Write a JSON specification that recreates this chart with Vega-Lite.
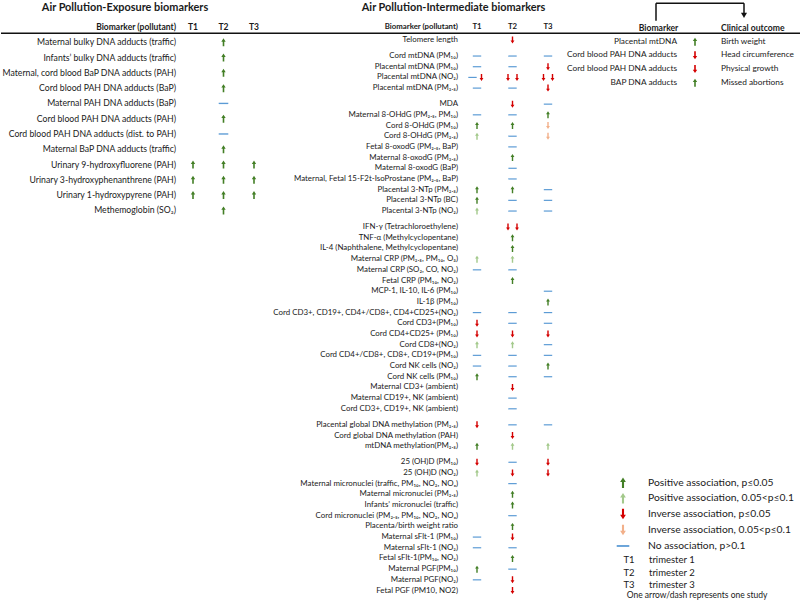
{
  "$schema": "https://vega.github.io/schema/vega-lite/v6.json",
  "padding": 0,
  "spacing": 0,
  "bounds": "flush",
  "config": {"view": {"stroke": null}, "font": "Lato", "text": {"color": "#1a1a1a", "baseline": "middle"}},
  "datasets": {
    "expLabels": [
      {"row": 0, "label": "Maternal bulky DNA adducts (traffic)"},
      {"row": 1, "label": "Infants’  bulky DNA adducts (traffic)"},
      {"row": 2, "label": "Maternal, cord blood BaP DNA adducts (PAH)"},
      {"row": 3, "label": "Cord blood PAH DNA adducts (BaP)"},
      {"row": 4, "label": "Maternal PAH DNA adducts (BaP)"},
      {"row": 5, "label": "Cord blood PAH DNA adducts (PAH)"},
      {"row": 6, "label": "Cord blood PAH DNA adducts (dist. to PAH)"},
      {"row": 7, "label": "Maternal BaP DNA adducts (traffic)"},
      {"row": 8, "label": "Urinary 9-hydroxyfluorene (PAH)"},
      {"row": 9, "label": "Urinary 3-hydroxyphenanthrene (PAH)"},
      {"row": 10, "label": "Urinary 1-hydroxypyrene (PAH)"},
      {"row": 11, "label": "Methemoglobin (SO₂)"}
    ],
    "expMarks": [
      {"row": 0, "tri": "T2", "assoc": "pos"},
      {"row": 1, "tri": "T2", "assoc": "pos"},
      {"row": 2, "tri": "T2", "assoc": "pos"},
      {"row": 3, "tri": "T2", "assoc": "pos"},
      {"row": 4, "tri": "T2", "assoc": "none"},
      {"row": 5, "tri": "T2", "assoc": "pos"},
      {"row": 6, "tri": "T2", "assoc": "none"},
      {"row": 7, "tri": "T2", "assoc": "pos"},
      {"row": 8, "tri": "T1", "assoc": "pos"},
      {"row": 8, "tri": "T2", "assoc": "pos"},
      {"row": 8, "tri": "T3", "assoc": "pos"},
      {"row": 9, "tri": "T1", "assoc": "pos"},
      {"row": 9, "tri": "T2", "assoc": "pos"},
      {"row": 9, "tri": "T3", "assoc": "pos"},
      {"row": 10, "tri": "T1", "assoc": "pos"},
      {"row": 10, "tri": "T2", "assoc": "pos"},
      {"row": 10, "tri": "T3", "assoc": "pos"},
      {"row": 11, "tri": "T2", "assoc": "pos"}
    ],
    "intLabels": [
      {"row": 0, "label": "Telomere length"},
      {"row": 1.5, "label": "Cord mtDNA (PM₁₀)"},
      {"row": 2.5, "label": "Placental mtDNA (PM₁₀)"},
      {"row": 3.5, "label": "Placental mtDNA (NO₂)"},
      {"row": 4.5, "label": "Placental mtDNA (PM₂.₅)"},
      {"row": 6, "label": "MDA"},
      {"row": 7, "label": "Maternal 8-OHdG (PM₂.₅, PM₁₀)"},
      {"row": 8, "label": "Cord 8-OHdG (PM₁₀)"},
      {"row": 9, "label": "Cord 8-OHdG (PM₂.₅)"},
      {"row": 10, "label": "Fetal 8-oxodG (PM₂.₅, BaP)"},
      {"row": 11, "label": "Maternal 8-oxodG (PM₂.₅)"},
      {"row": 12, "label": "Maternal 8-oxodG (BaP)"},
      {"row": 13, "label": "Maternal, Fetal 15-F2t-IsoProstane (PM₂.₅, BaP)"},
      {"row": 14, "label": "Placental 3-NTp (PM₂.₅)"},
      {"row": 15, "label": "Placental 3-NTp (BC)"},
      {"row": 16, "label": "Placental 3-NTp (NO₂)"},
      {"row": 17.5, "label": "IFN-γ (Tetrachloroethylene)"},
      {"row": 18.5, "label": "TNF-α (Methylcyclopentane)"},
      {"row": 19.5, "label": "IL-4 (Naphthalene, Methylcyclopentane)"},
      {"row": 20.5, "label": "Maternal CRP (PM₂.₅, PM₁₀, O₃)"},
      {"row": 21.5, "label": "Maternal CRP (SO₂, CO, NO₂)"},
      {"row": 22.5, "label": "Fetal CRP (PM₁₀, NO₂)"},
      {"row": 23.5, "label": "MCP-1, IL-10, IL-6 (PM₁₀)"},
      {"row": 24.5, "label": "IL-1β (PM₁₀)"},
      {"row": 25.5, "label": "Cord CD3+, CD19+, CD4+/CD8+, CD4+CD25+(NO₂)"},
      {"row": 26.5, "label": "Cord CD3+(PM₁₀)"},
      {"row": 27.5, "label": "Cord CD4+CD25+ (PM₁₀)"},
      {"row": 28.5, "label": "Cord CD8+(NO₂)"},
      {"row": 29.5, "label": "Cord CD4+/CD8+, CD8+, CD19+(PM₁₀)"},
      {"row": 30.5, "label": "Cord NK cells (NO₂)"},
      {"row": 31.5, "label": "Cord NK cells (PM₁₀)"},
      {"row": 32.5, "label": "Maternal CD3+ (ambient)"},
      {"row": 33.5, "label": "Maternal CD19+, NK (ambient)"},
      {"row": 34.5, "label": "Cord CD3+, CD19+, NK (ambient)"},
      {"row": 36, "label": "Placental global DNA methylation (PM₂.₅)"},
      {"row": 37, "label": "Cord global DNA methylation (PAH)"},
      {"row": 38, "label": "mtDNA methylation(PM₂.₅)"},
      {"row": 39.5, "label": "25 (OH)D (PM₁₀)"},
      {"row": 40.5, "label": "25 (OH)D (NO₂)"},
      {"row": 41.5, "label": "Maternal micronuclei (traffic, PM₁₀, NO₂, NOₓ)"},
      {"row": 42.5, "label": "Maternal micronuclei (PM₂.₅)"},
      {"row": 43.5, "label": "Infants’ micronuclei (traffic)"},
      {"row": 44.5, "label": "Cord micronuclei (PM₂.₅, PM₁₀, NO₂, NOₓ)"},
      {"row": 45.5, "label": "Placenta/birth weight ratio"},
      {"row": 46.5, "label": "Maternal sFlt-1 (PM₁₀)"},
      {"row": 47.5, "label": "Maternal sFlt-1 (NO₂)"},
      {"row": 48.5, "label": "Fetal sFlt-1(PM₁₀, NO₂)"},
      {"row": 49.5, "label": "Maternal PGF(PM₁₀)"},
      {"row": 50.5, "label": "Maternal PGF(NO₂)"},
      {"row": 51.5, "label": "Fetal PGF (PM10, NO2)"}
    ],
    "intMarks": [
      {"row": 0, "tri": "T2", "slot": "C", "assoc": "neg"},
      {"row": 1.5, "tri": "T1", "slot": "C", "assoc": "none"},
      {"row": 1.5, "tri": "T2", "slot": "C", "assoc": "none"},
      {"row": 1.5, "tri": "T3", "slot": "C", "assoc": "none"},
      {"row": 2.5, "tri": "T1", "slot": "C", "assoc": "none"},
      {"row": 2.5, "tri": "T2", "slot": "C", "assoc": "none"},
      {"row": 2.5, "tri": "T3", "slot": "C", "assoc": "neg"},
      {"row": 3.5, "tri": "T1", "slot": "L", "assoc": "none"},
      {"row": 3.5, "tri": "T1", "slot": "R", "assoc": "neg"},
      {"row": 3.5, "tri": "T2", "slot": "L", "assoc": "neg"},
      {"row": 3.5, "tri": "T2", "slot": "R", "assoc": "neg"},
      {"row": 3.5, "tri": "T3", "slot": "L", "assoc": "neg"},
      {"row": 3.5, "tri": "T3", "slot": "R", "assoc": "neg"},
      {"row": 4.5, "tri": "T1", "slot": "C", "assoc": "none"},
      {"row": 4.5, "tri": "T2", "slot": "C", "assoc": "none"},
      {"row": 4.5, "tri": "T3", "slot": "C", "assoc": "neg"},
      {"row": 6, "tri": "T2", "slot": "C", "assoc": "neg"},
      {"row": 6, "tri": "T3", "slot": "C", "assoc": "none"},
      {"row": 7, "tri": "T1", "slot": "C", "assoc": "none"},
      {"row": 7, "tri": "T2", "slot": "C", "assoc": "none"},
      {"row": 7, "tri": "T3", "slot": "C", "assoc": "pos"},
      {"row": 8, "tri": "T1", "slot": "C", "assoc": "pos"},
      {"row": 8, "tri": "T2", "slot": "C", "assoc": "pos"},
      {"row": 8, "tri": "T3", "slot": "C", "assoc": "neg_m"},
      {"row": 9, "tri": "T1", "slot": "C", "assoc": "pos_m"},
      {"row": 9, "tri": "T2", "slot": "C", "assoc": "none"},
      {"row": 9, "tri": "T3", "slot": "C", "assoc": "neg_m"},
      {"row": 10, "tri": "T2", "slot": "C", "assoc": "none"},
      {"row": 11, "tri": "T2", "slot": "C", "assoc": "pos"},
      {"row": 12, "tri": "T2", "slot": "C", "assoc": "none"},
      {"row": 13, "tri": "T2", "slot": "C", "assoc": "none"},
      {"row": 14, "tri": "T1", "slot": "C", "assoc": "pos"},
      {"row": 14, "tri": "T2", "slot": "C", "assoc": "pos"},
      {"row": 14, "tri": "T3", "slot": "C", "assoc": "none"},
      {"row": 15, "tri": "T1", "slot": "C", "assoc": "pos"},
      {"row": 15, "tri": "T2", "slot": "C", "assoc": "none"},
      {"row": 15, "tri": "T3", "slot": "C", "assoc": "none"},
      {"row": 16, "tri": "T1", "slot": "C", "assoc": "pos_m"},
      {"row": 16, "tri": "T2", "slot": "C", "assoc": "none"},
      {"row": 16, "tri": "T3", "slot": "C", "assoc": "none"},
      {"row": 17.5, "tri": "T2", "slot": "L", "assoc": "neg"},
      {"row": 17.5, "tri": "T2", "slot": "R", "assoc": "neg"},
      {"row": 18.5, "tri": "T2", "slot": "C", "assoc": "pos"},
      {"row": 19.5, "tri": "T2", "slot": "C", "assoc": "pos"},
      {"row": 20.5, "tri": "T1", "slot": "C", "assoc": "pos_m"},
      {"row": 20.5, "tri": "T2", "slot": "C", "assoc": "pos_m"},
      {"row": 21.5, "tri": "T1", "slot": "C", "assoc": "none"},
      {"row": 21.5, "tri": "T2", "slot": "C", "assoc": "none"},
      {"row": 22.5, "tri": "T2", "slot": "C", "assoc": "pos"},
      {"row": 23.5, "tri": "T3", "slot": "C", "assoc": "none"},
      {"row": 24.5, "tri": "T3", "slot": "C", "assoc": "pos"},
      {"row": 25.5, "tri": "T1", "slot": "C", "assoc": "none"},
      {"row": 25.5, "tri": "T2", "slot": "C", "assoc": "none"},
      {"row": 25.5, "tri": "T3", "slot": "C", "assoc": "none"},
      {"row": 26.5, "tri": "T1", "slot": "C", "assoc": "neg"},
      {"row": 26.5, "tri": "T2", "slot": "C", "assoc": "none"},
      {"row": 26.5, "tri": "T3", "slot": "C", "assoc": "none"},
      {"row": 27.5, "tri": "T1", "slot": "C", "assoc": "neg"},
      {"row": 27.5, "tri": "T2", "slot": "C", "assoc": "neg"},
      {"row": 27.5, "tri": "T3", "slot": "C", "assoc": "neg"},
      {"row": 28.5, "tri": "T1", "slot": "C", "assoc": "pos_m"},
      {"row": 28.5, "tri": "T2", "slot": "C", "assoc": "pos_m"},
      {"row": 28.5, "tri": "T3", "slot": "C", "assoc": "none"},
      {"row": 29.5, "tri": "T1", "slot": "C", "assoc": "none"},
      {"row": 29.5, "tri": "T2", "slot": "C", "assoc": "none"},
      {"row": 29.5, "tri": "T3", "slot": "C", "assoc": "none"},
      {"row": 30.5, "tri": "T1", "slot": "C", "assoc": "none"},
      {"row": 30.5, "tri": "T2", "slot": "C", "assoc": "none"},
      {"row": 30.5, "tri": "T3", "slot": "C", "assoc": "pos"},
      {"row": 31.5, "tri": "T1", "slot": "C", "assoc": "pos"},
      {"row": 31.5, "tri": "T2", "slot": "C", "assoc": "none"},
      {"row": 31.5, "tri": "T3", "slot": "C", "assoc": "none"},
      {"row": 32.5, "tri": "T2", "slot": "C", "assoc": "neg"},
      {"row": 33.5, "tri": "T2", "slot": "C", "assoc": "none"},
      {"row": 34.5, "tri": "T2", "slot": "C", "assoc": "none"},
      {"row": 36, "tri": "T1", "slot": "C", "assoc": "neg"},
      {"row": 36, "tri": "T2", "slot": "C", "assoc": "none"},
      {"row": 36, "tri": "T3", "slot": "C", "assoc": "none"},
      {"row": 37, "tri": "T2", "slot": "C", "assoc": "neg"},
      {"row": 38, "tri": "T1", "slot": "C", "assoc": "pos"},
      {"row": 38, "tri": "T2", "slot": "C", "assoc": "pos_m"},
      {"row": 38, "tri": "T3", "slot": "C", "assoc": "pos_m"},
      {"row": 39.5, "tri": "T1", "slot": "C", "assoc": "neg"},
      {"row": 39.5, "tri": "T2", "slot": "C", "assoc": "none"},
      {"row": 39.5, "tri": "T3", "slot": "C", "assoc": "neg"},
      {"row": 40.5, "tri": "T1", "slot": "C", "assoc": "pos_m"},
      {"row": 40.5, "tri": "T2", "slot": "C", "assoc": "neg"},
      {"row": 40.5, "tri": "T3", "slot": "C", "assoc": "neg"},
      {"row": 41.5, "tri": "T2", "slot": "C", "assoc": "none"},
      {"row": 42.5, "tri": "T2", "slot": "C", "assoc": "pos"},
      {"row": 43.5, "tri": "T2", "slot": "C", "assoc": "pos"},
      {"row": 44.5, "tri": "T2", "slot": "C", "assoc": "none"},
      {"row": 45.5, "tri": "T2", "slot": "C", "assoc": "pos"},
      {"row": 46.5, "tri": "T1", "slot": "C", "assoc": "none"},
      {"row": 46.5, "tri": "T2", "slot": "C", "assoc": "neg"},
      {"row": 47.5, "tri": "T1", "slot": "C", "assoc": "none"},
      {"row": 47.5, "tri": "T2", "slot": "C", "assoc": "none"},
      {"row": 48.5, "tri": "T2", "slot": "C", "assoc": "pos"},
      {"row": 49.5, "tri": "T1", "slot": "C", "assoc": "pos"},
      {"row": 49.5, "tri": "T2", "slot": "C", "assoc": "none"},
      {"row": 50.5, "tri": "T1", "slot": "C", "assoc": "none"},
      {"row": 50.5, "tri": "T2", "slot": "C", "assoc": "neg"},
      {"row": 51.5, "tri": "T2", "slot": "C", "assoc": "neg"}
    ],
    "outRows": [
      {"row": 0, "biomarker": "Placental mtDNA", "assoc": "pos", "outcome": "Birth weight"},
      {"row": 1, "biomarker": "Cord blood PAH DNA adducts", "assoc": "neg", "outcome": "Head circumference"},
      {"row": 2, "biomarker": "Cord blood PAH DNA adducts", "assoc": "neg", "outcome": "Physical growth"},
      {"row": 3, "biomarker": "BAP DNA adducts", "assoc": "pos", "outcome": "Missed abortions"}
    ],
    "legendRows": [
      {"row": 32.26, "assoc": "pos", "label": "Positive association, p≤0.05"},
      {"row": 33.40, "assoc": "pos_m", "label": "Positive association, 0.05<p≤0.1"},
      {"row": 34.55, "assoc": "neg", "label": "Inverse association, p≤0.05"},
      {"row": 35.72, "assoc": "neg_m", "label": "Inverse association, 0.05<p≤0.1"},
      {"row": 36.89, "assoc": "none", "label": "No association, p>0.1"}
    ],
    "trimesters": [
      {"row": 37.914, "code": "T1", "text": "trimester 1"},
      {"row": 38.843, "code": "T2", "text": "trimester 2"},
      {"row": 39.744, "code": "T3", "text": "trimester 3"}
    ]
  },
  "hconcat": [
    {
      "width": 290,
      "height": 600,
      "layer": [
        {
          "data": {"name": "expMarks"},
          "mark": {"type": "point", "filled": true, "size": 64, "opacity": 1, "strokeWidth": 0},
          "encoding": {
            "x": {"field": "tri", "type": "nominal", "scale": {"type": "point", "domain": ["T1", "T2", "T3"], "range": [192, 253], "padding": 0}, "axis": null},
            "y": {"field": "row", "type": "quantitative", "scale": {"domain": [-2.768, 36.499], "reverse": true, "nice": false, "zero": false}, "axis": null},
            "color": {"field": "assoc", "type": "nominal", "scale": {"domain": ["pos", "pos_m", "neg", "neg_m", "none"], "range": ["#437f26", "#a3c98b", "#d40000", "#f2b08a", "#5b9bd5"]}, "legend": null},
            "shape": {"field": "assoc", "type": "nominal", "scale": {"domain": ["pos", "pos_m", "neg", "neg_m", "none"], "range": ["M0,-1L0.55,-0.15L0.2,-0.15L0.2,1L-0.2,1L-0.2,-0.15L-0.55,-0.15Z", "M0,-1L0.55,-0.15L0.2,-0.15L0.2,1L-0.2,1L-0.2,-0.15L-0.55,-0.15Z", "M0,1L0.55,0.15L0.2,0.15L0.2,-1L-0.2,-1L-0.2,0.15L-0.55,0.15Z", "M0,1L0.55,0.15L0.2,0.15L0.2,-1L-0.2,-1L-0.2,0.15L-0.55,0.15Z", "M-1.2,-0.17L1.2,-0.17L1.2,0.17L-1.2,0.17Z"]}, "legend": null}
          }
        },
        {
          "data": {"name": "expLabels"},
          "transform": [{"calculate": "'T1'", "as": "tri"}],
          "mark": {"type": "text", "align": "right", "dx": -17, "fontSize": 8.7},
          "encoding": {
            "x": {"field": "tri", "type": "nominal"},
            "y": {"field": "row", "type": "quantitative"},
            "text": {"field": "label"}
          }
        },
        {
          "data": {"values": [{"tri": "T1", "row": -1.0}, {"tri": "T2", "row": -1.0}, {"tri": "T3", "row": -1.0}]},
          "mark": {"type": "text", "fontWeight": "bold", "fontSize": 8.5},
          "encoding": {
            "x": {"field": "tri", "type": "nominal"},
            "y": {"field": "row", "type": "quantitative"},
            "text": {"field": "tri"}
          }
        },
        {
          "data": {"values": [{"tri": "T1", "row": -1.0, "t": "Biomarker (pollutant)"}]},
          "mark": {"type": "text", "fontWeight": "bold", "fontSize": 8.5, "align": "right", "dx": -17},
          "encoding": {
            "x": {"field": "tri", "type": "nominal"},
            "y": {"field": "row", "type": "quantitative"},
            "text": {"field": "t"}
          }
        },
        {
          "data": {"values": [{"tri": "T1", "row": -2.277, "t": "Air Pollution-Exposure biomarkers"}]},
          "mark": {"type": "text", "fontWeight": "bold", "fontSize": 10.9, "align": "center", "dx": -68},
          "encoding": {
            "x": {"field": "tri", "type": "nominal"},
            "y": {"field": "row", "type": "quantitative"},
            "text": {"field": "t"}
          }
        },
        {
          "data": {"values": [{"line": -0.589}]},
          "mark": {"type": "rule", "color": "#111111", "strokeWidth": 1.5},
          "encoding": {"y": {"field": "line", "type": "quantitative"}}
        }
      ]
    },
    {
      "width": 270,
      "height": 600,
      "layer": [
        {
          "data": {"name": "intMarks"},
          "transform": [{"filter": "datum.slot == 'C'"}],
          "mark": {"type": "point", "filled": true, "size": 49, "opacity": 1, "strokeWidth": 0},
          "encoding": {
            "x": {"field": "tri", "type": "nominal", "scale": {"type": "point", "domain": ["T1", "T2", "T3"], "range": [186, 257], "padding": 0}, "axis": null},
            "y": {"field": "row", "type": "quantitative", "scale": {"domain": [-3.742, 52.386], "reverse": true, "nice": false, "zero": false}, "axis": null},
            "color": {"field": "assoc", "type": "nominal", "legend": null},
            "shape": {"field": "assoc", "type": "nominal", "legend": null}
          }
        },
        {
          "data": {"name": "intMarks"},
          "transform": [{"filter": "datum.slot == 'L'"}],
          "mark": {"type": "point", "filled": true, "size": 49, "opacity": 1, "strokeWidth": 0, "xOffset": -4.5},
          "encoding": {
            "x": {"field": "tri", "type": "nominal"},
            "y": {"field": "row", "type": "quantitative"},
            "color": {"field": "assoc", "type": "nominal", "legend": null},
            "shape": {"field": "assoc", "type": "nominal", "legend": null}
          }
        },
        {
          "data": {"name": "intMarks"},
          "transform": [{"filter": "datum.slot == 'R'"}],
          "mark": {"type": "point", "filled": true, "size": 49, "opacity": 1, "strokeWidth": 0, "xOffset": 4.5},
          "encoding": {
            "x": {"field": "tri", "type": "nominal"},
            "y": {"field": "row", "type": "quantitative"},
            "color": {"field": "assoc", "type": "nominal", "legend": null},
            "shape": {"field": "assoc", "type": "nominal", "legend": null}
          }
        },
        {
          "data": {"name": "intLabels"},
          "transform": [{"calculate": "'T1'", "as": "tri"}],
          "mark": {"type": "text", "align": "right", "dx": -19, "fontSize": 7.9},
          "encoding": {
            "x": {"field": "tri", "type": "nominal"},
            "y": {"field": "row", "type": "quantitative"},
            "text": {"field": "label"}
          }
        },
        {
          "data": {"values": [{"tri": "T1", "row": -1.216}, {"tri": "T2", "row": -1.216}, {"tri": "T3", "row": -1.216}]},
          "mark": {"type": "text", "fontWeight": "bold", "fontSize": 7.8},
          "encoding": {
            "x": {"field": "tri", "type": "nominal"},
            "y": {"field": "row", "type": "quantitative"},
            "text": {"field": "tri"}
          }
        },
        {
          "data": {"values": [{"tri": "T1", "row": -1.216, "t": "Biomarker (pollutant)"}]},
          "mark": {"type": "text", "fontWeight": "bold", "fontSize": 7.8, "align": "right", "dx": -19},
          "encoding": {
            "x": {"field": "tri", "type": "nominal"},
            "y": {"field": "row", "type": "quantitative"},
            "text": {"field": "t"}
          }
        },
        {
          "data": {"values": [{"tri": "T1", "row": -3.040, "t": "Air Pollution-Intermediate biomarkers"}]},
          "mark": {"type": "text", "fontWeight": "bold", "fontSize": 10.9, "align": "center", "dx": -23.4},
          "encoding": {
            "x": {"field": "tri", "type": "nominal"},
            "y": {"field": "row", "type": "quantitative"},
            "text": {"field": "t"}
          }
        },
        {
          "data": {"values": [{"line": -0.627}]},
          "mark": {"type": "rule", "color": "#111111", "strokeWidth": 1.5},
          "encoding": {"y": {"field": "line", "type": "quantitative"}}
        }
      ]
    },
    {
      "width": 240,
      "height": 600,
      "layer": [
        {
          "data": {"name": "outRows"},
          "transform": [{"calculate": "'Association'", "as": "col"}],
          "mark": {"type": "point", "filled": true, "size": 64, "opacity": 1, "strokeWidth": 0, "xOffset": -5},
          "encoding": {
            "x": {"field": "col", "type": "nominal", "scale": {"type": "point", "domain": ["Biomarker", "Association", "Clinical outcome"], "range": [95, 183], "padding": 0}, "axis": null},
            "y": {"field": "row", "type": "quantitative", "scale": {"domain": [-3.0505, 40.8413], "reverse": true, "nice": false, "zero": false}, "axis": null},
            "color": {"field": "assoc", "type": "nominal", "legend": null},
            "shape": {"field": "assoc", "type": "nominal", "legend": null}
          }
        },
        {
          "data": {"name": "outRows"},
          "transform": [{"calculate": "'Biomarker'", "as": "col"}],
          "mark": {"type": "text", "align": "right", "dx": 21, "fontSize": 8.3},
          "encoding": {
            "x": {"field": "col", "type": "nominal"},
            "y": {"field": "row", "type": "quantitative"},
            "text": {"field": "biomarker"}
          }
        },
        {
          "data": {"name": "outRows"},
          "transform": [{"calculate": "'Clinical outcome'", "as": "col"}],
          "mark": {"type": "text", "align": "left", "dx": -23, "fontSize": 8.3},
          "encoding": {
            "x": {"field": "col", "type": "nominal"},
            "y": {"field": "row", "type": "quantitative"},
            "text": {"field": "outcome"}
          }
        },
        {
          "data": {"values": [{"col": "Biomarker", "row": -1.002}]},
          "mark": {"type": "text", "fontWeight": "bold", "fontSize": 8.6, "align": "center", "dx": 2.5},
          "encoding": {
            "x": {"field": "col", "type": "nominal"},
            "y": {"field": "row", "type": "quantitative"},
            "text": {"field": "col"}
          }
        },
        {
          "data": {"values": [{"col": "Clinical outcome", "row": -1.002}]},
          "mark": {"type": "text", "fontWeight": "bold", "fontSize": 8.6, "align": "left", "dx": -23},
          "encoding": {
            "x": {"field": "col", "type": "nominal"},
            "y": {"field": "row", "type": "quantitative"},
            "text": {"field": "col"}
          }
        },
        {
          "data": {"values": [{"line": -0.614}]},
          "mark": {"type": "rule", "color": "#111111", "strokeWidth": 1.5},
          "encoding": {"y": {"field": "line", "type": "quantitative"}}
        },
        {
          "data": {"values": [
            {"from": "Biomarker", "top": -2.809, "bottom": -1.536},
            {"from": "Clinical outcome", "top": -2.809, "bottom": -2.0}
          ]},
          "mark": {"type": "rule", "color": "#111111", "strokeWidth": 1.5},
          "encoding": {
            "x": {"field": "from", "type": "nominal"},
            "y": {"field": "top", "type": "quantitative"},
            "y2": {"field": "bottom"}
          }
        },
        {
          "data": {"values": [{"from": "Biomarker", "to": "Clinical outcome", "top": -2.809}]},
          "mark": {"type": "rule", "color": "#111111", "strokeWidth": 1.5},
          "encoding": {
            "x": {"field": "from", "type": "nominal"},
            "x2": {"field": "to"},
            "y": {"field": "top", "type": "quantitative"}
          }
        },
        {
          "data": {"values": [{"to": "Clinical outcome", "tip": -1.92}]},
          "mark": {"type": "point", "shape": "triangle-down", "filled": true, "color": "#111111", "size": 36, "opacity": 1},
          "encoding": {
            "x": {"field": "to", "type": "nominal"},
            "y": {"field": "tip", "type": "quantitative"}
          }
        },
        {
          "data": {"name": "legendRows"},
          "transform": [{"calculate": "'Biomarker'", "as": "col"}],
          "mark": {"type": "point", "filled": true, "size": 110, "opacity": 1, "strokeWidth": 0, "xOffset": -33},
          "encoding": {
            "x": {"field": "col", "type": "nominal"},
            "y": {"field": "row", "type": "quantitative"},
            "color": {"field": "assoc", "type": "nominal", "legend": null},
            "shape": {"field": "assoc", "type": "nominal", "legend": null}
          }
        },
        {
          "data": {"name": "legendRows"},
          "transform": [{"calculate": "'Biomarker'", "as": "col"}],
          "mark": {"type": "text", "align": "left", "dx": -8, "fontSize": 10.3},
          "encoding": {
            "x": {"field": "col", "type": "nominal"},
            "y": {"field": "row", "type": "quantitative"},
            "text": {"field": "label"}
          }
        },
        {
          "data": {"name": "trimesters"},
          "transform": [{"calculate": "'Biomarker'", "as": "col"}],
          "mark": {"type": "text", "align": "center", "dx": -27, "fontSize": 9.5},
          "encoding": {
            "x": {"field": "col", "type": "nominal"},
            "y": {"field": "row", "type": "quantitative"},
            "text": {"field": "code"}
          }
        },
        {
          "data": {"name": "trimesters"},
          "transform": [{"calculate": "'Biomarker'", "as": "col"}],
          "mark": {"type": "text", "align": "left", "dx": -7, "fontSize": 9.5},
          "encoding": {
            "x": {"field": "col", "type": "nominal"},
            "y": {"field": "row", "type": "quantitative"},
            "text": {"field": "text"}
          }
        },
        {
          "data": {"values": [{"col": "Biomarker", "row": 40.476, "t": "One arrow/dash represents one study"}]},
          "mark": {"type": "text", "align": "left", "dx": -29.3, "fontSize": 8.5},
          "encoding": {
            "x": {"field": "col", "type": "nominal"},
            "y": {"field": "row", "type": "quantitative"},
            "text": {"field": "t"}
          }
        }
      ]
    }
  ]
}
